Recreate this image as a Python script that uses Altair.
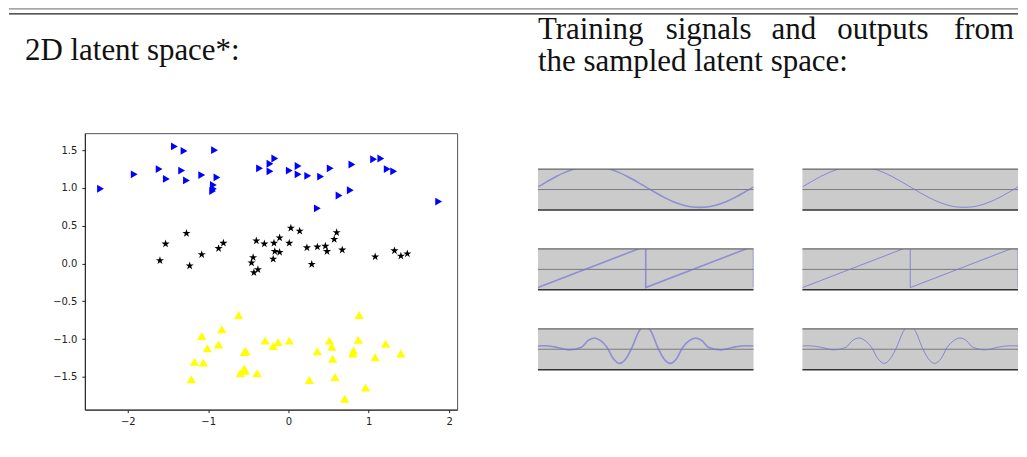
import altair as alt
import pandas as pd

# ---------------- scatter data (2D latent space) ----------------
blue_x = [-2.34, -1.92, -1.42, -1.30, -0.92, -1.61, -1.52, -1.33, -1.27, -1.08, -0.89, -0.935, -0.935, -0.944,
          -0.36, -0.23, -0.23, -0.17, 0.01, 0.12, 0.12, 0.24, 0.40, 0.52, 0.79, 1.06, 1.15, 1.23, 1.31,
          0.63, 0.77, 0.36, 1.87]
blue_y = [0.99, 1.18, 1.55, 1.49, 1.50, 1.25, 1.12, 1.23, 1.10, 1.17, 1.14, 1.04, 0.99, 0.96,
          1.26, 1.32, 1.22, 1.39, 1.23, 1.29, 1.18, 1.16, 1.15, 1.26, 1.31, 1.38, 1.39, 1.25, 1.22,
          0.90, 0.97, 0.73, 0.82]
black_x = [-1.60, -1.53, -1.27, -1.23, -1.08, -0.87, -0.81, -0.40, -0.30, -0.44, -0.46, -0.43, -0.38,
           -0.18, -0.11, 0.03, 0.14, 0.01, -0.17, -0.11, -0.19, 0.23, 0.36, 0.46, 0.48, 0.57, 0.60,
           0.67, 0.29, 1.08, 1.32, 1.40, 1.48]
black_y = [0.04, 0.26, 0.40, -0.03, 0.12, 0.20, 0.27, 0.30, 0.26, 0.08, 0.01, -0.12, -0.08,
           0.27, 0.34, 0.47, 0.43, 0.27, 0.16, 0.15, 0.06, 0.21, 0.22, 0.23, 0.16, 0.32, 0.41,
           0.18, -0.01, 0.09, 0.17, 0.10, 0.13]
yellow_x = [-0.62, -1.08, -0.83, -1.01, -0.87, -1.17, -1.06, -1.21, -0.55, -0.53, -0.60, -0.55, -0.54,
            -0.39, -0.29, -0.19, -0.13, 0.01, 0.26, 0.36, 0.51, 0.54, 0.55, 0.58, 0.70, 0.88, 0.87,
            0.81, 0.80, 0.96, 1.08, 1.21, 1.40]
yellow_y = [-0.68, -0.96, -0.87, -1.12, -1.07, -1.30, -1.31, -1.53, -1.17, -1.16, -1.45, -1.39, -1.42,
            -1.45, -1.02, -1.09, -1.04, -1.02, -1.54, -1.16, -1.02, -1.10, -1.26, -1.50, -1.79, -0.68, -1.01,
            -1.15, -1.19, -1.64, -1.24, -1.06, -1.19]
x_ticks = [-2, -1, 0, 1, 2]
y_ticks = [-1.5, -1.0, -0.5, 0.0, 0.5, 1.0, 1.5]

# ---------------- signal data ----------------
sine_t = [0, 0.042, 0.083, 0.125, 0.167, 0.208, 0.25, 0.292, 0.333, 0.375, 0.417, 0.458, 0.5,
          0.542, 0.583, 0.625, 0.667, 0.708, 0.75, 0.792, 0.833, 0.875, 0.917, 0.958, 1.0]
sine_v = [0.13, 0.39, 0.63, 0.84, 1.0, 1.10, 1.13, 1.10, 1.0, 0.84, 0.63, 0.39, 0.13,
          -0.13, -0.37, -0.58, -0.74, -0.84, -0.87, -0.84, -0.74, -0.58, -0.37, -0.13, 0.13]
saw_t = [0.0, 0.5, 0.5, 1.0, 1.0]
saw_v = [-0.89, 1.14, -0.89, 1.14, -0.89]
wave_t = [0.0, 0.026, 0.086, 0.144, 0.202, 0.232, 0.261, 0.291, 0.32, 0.35, 0.379, 0.408, 0.437, 0.467,
          0.496, 0.526, 0.555, 0.584, 0.613, 0.643, 0.672, 0.702, 0.731, 0.761, 0.79, 0.848, 0.906,
          0.966, 1.0]
wave_v = [0.16, 0.17, 0.10, -0.03, 0.10, 0.42, 0.55, 0.42, 0.10, -0.46, -0.69, -0.46, 0.10, 0.85,
          1.16, 0.85, 0.10, -0.46, -0.69, -0.46, 0.10, 0.42, 0.55, 0.42, 0.10, -0.03, 0.10,
          0.17, 0.16]
signal_names = ["sine", "saw", "wave"]
kinds = ["train", "output"]

# ---------------- tables ----------------
scat_rows = []
for cls, xs, ys in [("b", blue_x, blue_y), ("k", black_x, black_y), ("y", yellow_x, yellow_y)]:
    for xv, yv in zip(xs, ys):
        scat_rows.append({"x": xv, "y": yv, "cls": cls})
scat_df = pd.DataFrame(scat_rows)

sig_rows = []
for name, ts, vs in [("sine", sine_t, sine_v), ("saw", saw_t, saw_v), ("wave", wave_t, wave_v)]:
    for kind in kinds:
        for i, (tv, vv) in enumerate(zip(ts, vs)):
            sig_rows.append({"sig": name, "kind": kind, "i": i, "t": tv, "v": vv})
sig_df = pd.DataFrame(sig_rows)

STAR = ("M0,-1L0.2245,-0.309L0.951,-0.309L0.363,0.118L0.588,0.809L0,0.382L-0.588,0.809"
        "L-0.363,0.118L-0.951,-0.309L-0.2245,-0.309Z")

W = 1011
AX = 76            # width reserved for the scatter's y axis
HW = W - AX        # header plot width
SERIF = "Liberation Serif"

# ---------------- header ----------------
one = pd.DataFrame({"a": [0]})
hdr_layers = [
    # invisible axis so that the header shares the left extent of the scatter's y axis
    alt.Chart(one).mark_point(opacity=0).encode(
        x=alt.value(0),
        y=alt.Y("a:Q", axis=alt.Axis(labels=False, ticks=False, domain=False, grid=False, title=None,
                                     minExtent=AX, maxExtent=AX))),
    alt.Chart(one).mark_rule(color="#666", strokeWidth=1).encode(
        x=alt.value(-AX), x2=alt.value(HW), y=alt.value(0.5)),
    alt.Chart(one).mark_rule(color="#222", strokeWidth=1.4).encode(
        x=alt.value(-AX), x2=alt.value(HW), y=alt.value(5.5)),
    alt.Chart(one).mark_text(text="2D latent space*:", font=SERIF, fontSize=31, align="left",
                             baseline="alphabetic", color="#111").encode(
        x=alt.value(16 - AX), y=alt.value(52)),
]
for word, xp, al in [("Training", 530, "left"), ("signals", 658, "left"), ("and", 764, "left"),
                     ("outputs", 830, "left"), ("from", 1007, "right")]:
    hdr_layers.append(alt.Chart(one).mark_text(text=word, font=SERIF, fontSize=31, align=al,
                                               baseline="alphabetic", color="#111").encode(
        x=alt.value(xp - AX), y=alt.value(31)))
hdr_layers.append(alt.Chart(one).mark_text(text="the sampled latent space:", font=SERIF, fontSize=31,
                                           align="left", baseline="alphabetic", color="#111").encode(
    x=alt.value(530 - AX), y=alt.value(63)))
header = alt.layer(*hdr_layers).properties(width=HW, height=124)

# ---------------- scatter ----------------
axis_common = dict(grid=False, tickSize=3, labelFontSize=10, labelFont="DejaVu Sans",
                   labelColor="#222", domainColor="#222", tickColor="#222", title=None)
scatter = alt.Chart(scat_df).mark_point(filled=True, opacity=1).encode(
    x=alt.X("x:Q", scale=alt.Scale(domain=[-2.535, 2.1], nice=False, zero=False),
            axis=alt.Axis(values=x_ticks, format="d", labelPadding=4, **axis_common)),
    y=alt.Y("y:Q", scale=alt.Scale(domain=[-1.933, 1.725], nice=False, zero=False),
            axis=alt.Axis(values=y_ticks, format=".1f", labelPadding=5, minExtent=AX, maxExtent=AX,
                          **axis_common)),
    shape=alt.Shape("cls:N", scale=alt.Scale(domain=["b", "k", "y"],
                                             range=["triangle-right", STAR, "triangle-up"]), legend=None),
    color=alt.Color("cls:N", scale=alt.Scale(domain=["b", "k", "y"],
                                             range=["#0000ff", "#000000", "#ffff00"]), legend=None),
    size=alt.Size("cls:N", scale=alt.Scale(domain=["b", "k", "y"], range=[62, 85, 75]), legend=None),
).properties(width=373, height=277, view=alt.ViewBackground(stroke="#555", strokeWidth=1))

# ---------------- signal panels ----------------
xsc = alt.Scale(domain=[0, 1], nice=False, zero=False)
ysc = alt.Scale(domain=[-1, 1], nice=False, zero=False)


def hrule(val, color, width):
    return alt.Chart().transform_filter("datum.i == 0").transform_calculate(
        yy=str(val)).mark_rule(color=color, strokeWidth=width).encode(
        y=alt.Y("yy:Q", scale=ysc, axis=None))


line_enc = dict(
    x=alt.X("t:Q", scale=xsc, axis=None),
    y=alt.Y("v:Q", scale=ysc, axis=None),
    order=alt.Order("i:Q"),
    strokeWidth=alt.StrokeWidth("kind:N", scale=alt.Scale(domain=kinds, range=[1.6, 1.0]), legend=None),
    opacity=alt.Opacity("kind:N", scale=alt.Scale(domain=kinds, range=[0.7, 0.8]), legend=None),
)
smooth = alt.Chart().transform_filter("datum.sig != 'saw'").mark_line(
    clip=True, color="#7474d8", interpolate="monotone").encode(**line_enc)
saw = alt.Chart().transform_filter("datum.sig == 'saw'").mark_line(
    clip=True, color="#7474d8", interpolate="linear").encode(**line_enc)

panel = alt.layer(
    hrule(0, "#7a7a7a", 1),
    smooth, saw,
    hrule(1, "#666", 1.2),
    hrule(-1, "#333", 1.5),
    data=sig_df,
).properties(width=216, height=41, view=alt.ViewBackground(fill="#cbcbcb", stroke=None))

panels = panel.facet(
    row=alt.Row("sig:N", sort=signal_names, header=None),
    column=alt.Column("kind:N", sort=kinds, header=None),
    spacing={"row": 37, "column": 47},
)

spacer = alt.Chart(one).mark_rule(opacity=0).encode(
    x=alt.value(1), y=alt.value(1), y2=alt.value(2)).properties(width=216, height=35)

right_col = alt.vconcat(spacer, panels, spacing=0)
body = alt.hconcat(scatter, right_col, spacing=79)

chart = alt.vconcat(header, body, spacing=0).properties(padding=0).configure_view(stroke=None)

chart.save("out.html", embed_options={"renderer": "svg", "actions": False})
